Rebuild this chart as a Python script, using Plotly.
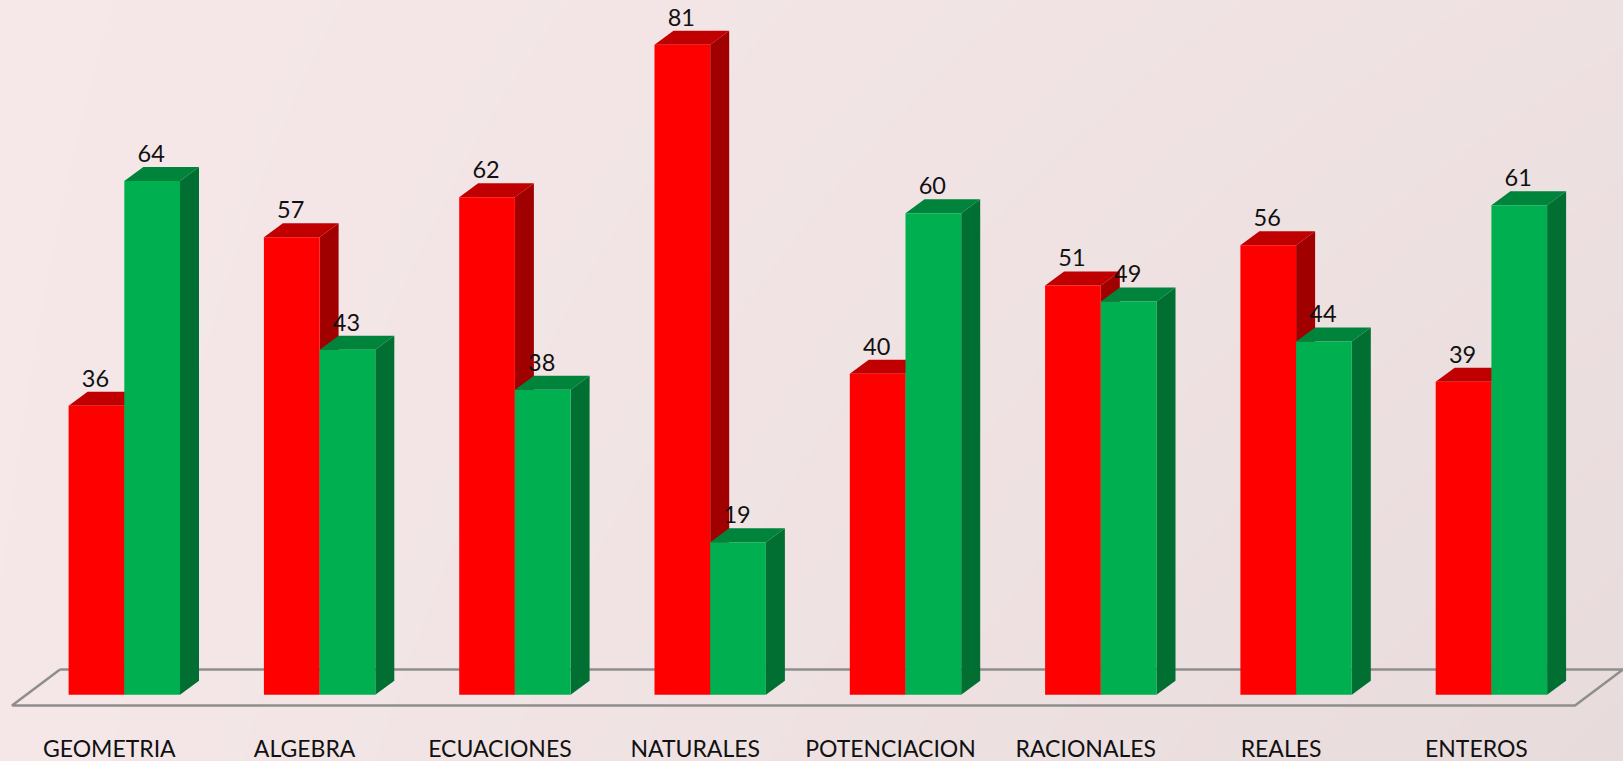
import plotly.graph_objects as go

categories = ["GEOMETRIA", "ALGEBRA", "ECUACIONES", "NATURALES", "POTENCIACION", "RACIONALES", "REALES", "ENTEROS"]
red_values = [36, 57, 62, 81, 40, 51, 56, 39]
green_values = [64, 43, 38, 19, 60, 49, 44, 61]

W, H = 1623, 761
PX_X = 195.3      # pixels per category
PX_Y = 8.025      # pixels per value unit
ORIGIN_X = 124.3  # pixel of category 0 centre
ORIGIN_Y = 694.7  # pixel of value 0

BAR = 55.7 / PX_X
DX = 19 / PX_X
DY = 14 / PX_Y

x_range = [-ORIGIN_X / PX_X, (W - ORIGIN_X) / PX_X]
y_range = [-(H - ORIGIN_Y) / PX_Y, ORIGIN_Y / PX_Y]

RED = ("#FF0000", "#C00000", "#A00000")
GREEN = ("#00B050", "#00833B", "#006F31")
LINE = "#8E8E8E"
FONT = "Lato"

fig = go.Figure()

# soft page background
fig.add_trace(go.Heatmap(
    x=x_range, y=y_range,
    z=[[0.05, 1.0], [0.0, 0.55]],
    zsmooth="best", showscale=False, hoverinfo="skip",
    colorscale=[[0, "#F6E8E9"], [1, "#E8DBDC"]],
))

# floor outline
fx0, fx1 = (12 - ORIGIN_X) / PX_X, (1575 - ORIGIN_X) / PX_X
fy0, fy1 = -(705.5 - ORIGIN_Y) / PX_Y, (ORIGIN_Y - 669.5) / PX_Y
skew = 48 / PX_X
fig.add_trace(go.Scatter(
    x=[fx0 + skew, fx1 + skew, fx1, fx0, fx0 + skew],
    y=[fy1, fy1, fy0, fy0, fy1],
    mode="lines", line=dict(color=LINE, width=2.5), hoverinfo="skip", showlegend=False,
))


def poly(xs, ys, color):
    fig.add_trace(go.Scatter(
        x=xs, y=ys, mode="lines", fill="toself", fillcolor=color,
        line=dict(width=0, color=color), hoverinfo="skip", showlegend=False,
    ))


def bar3d(left, value, colors):
    front, top, side = colors
    right = left + BAR
    poly([right, right + DX, right + DX, right, right], [0, DY, value + DY, value, 0], side)
    poly([left, left + DX, right + DX, right, left], [value, value + DY, value + DY, value, value], top)
    poly([left, right, right, left, left], [0, 0, value, value, 0], front)


for i in range(len(categories)):
    bar3d(i - BAR, red_values[i], RED)
    bar3d(i, green_values[i], GREEN)

# data labels
LABEL_UP = 25 / PX_Y
lx, ly, lt = [], [], []
for i in range(len(categories)):
    lx += [i - BAR / 2 - 1 / PX_X, i + BAR / 2 - 1 / PX_X]
    ly += [red_values[i] + LABEL_UP, green_values[i] + LABEL_UP]
    lt += [str(red_values[i]), str(green_values[i])]
fig.add_trace(go.Scatter(
    x=lx, y=ly, text=lt, mode="text", textposition="middle center",
    textfont=dict(family=FONT, size=23.5, color="#111111"),
    hoverinfo="skip", showlegend=False,
))

fig.update_layout(
    width=W, height=H, margin=dict(l=0, r=0, t=0, b=0),
    paper_bgcolor="#F0E3E4", plot_bgcolor="rgba(0,0,0,0)", showlegend=False,
    xaxis=dict(
        range=x_range, showgrid=False, zeroline=False, showline=False,
        tickmode="array",
        tickvals=[i - 15 / PX_X for i in range(len(categories))],
        ticktext=categories, ticks="", ticklabelposition="inside",
        ticklabelstandoff=-4,
        tickfont=dict(family=FONT, size=23, color="#111111"),
    ),
    yaxis=dict(range=y_range, visible=False),
)

fig.write_html("out.html", config=dict(displayModeBar=False),
               post_script="document.body.style.margin='0';document.body.style.overflow='hidden';")
